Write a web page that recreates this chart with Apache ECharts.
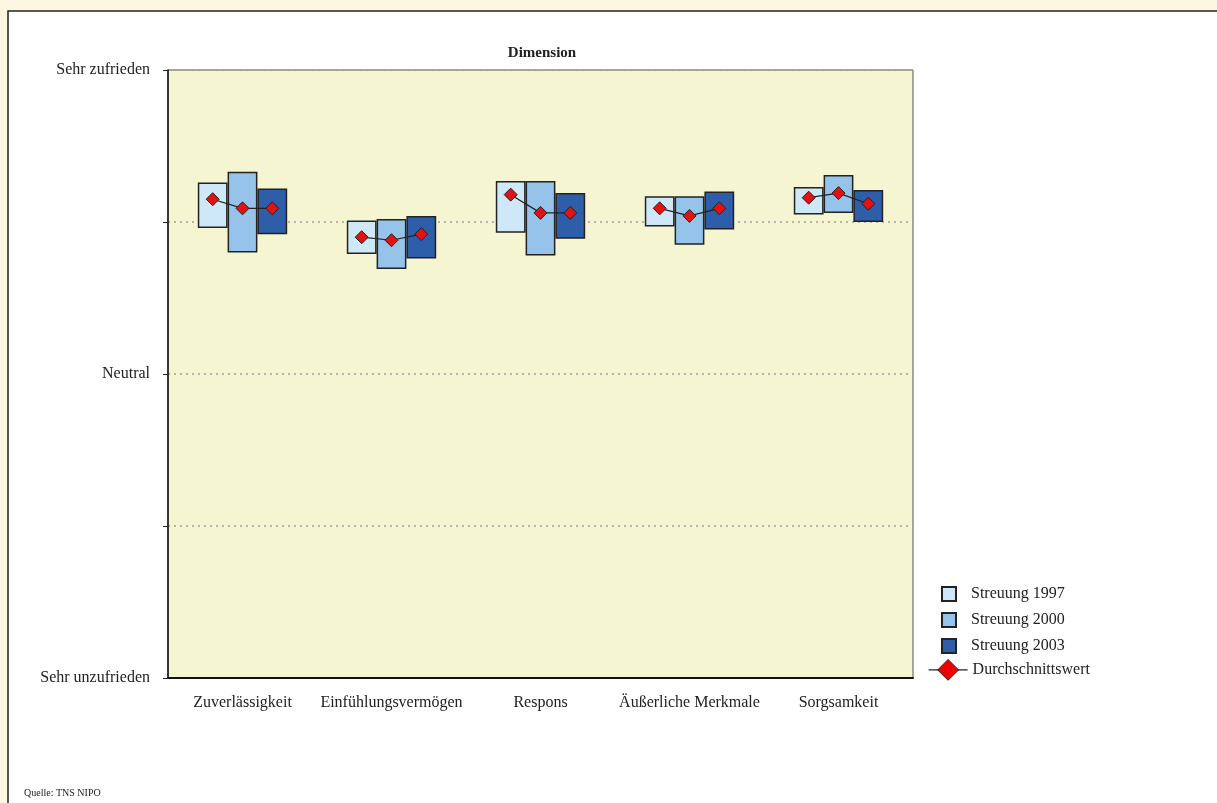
<!DOCTYPE html>
<html>
<head>
<meta charset="utf-8">
<script src="https://cdn.jsdelivr.net/npm/echarts@6/dist/echarts.min.js"></script>
<style>
html,body{margin:0;padding:0;background:#fdf6e1;}
#chart{width:1217px;height:803px;}
</style>
</head>
<body>
<div id="chart"></div>
<script>
const categories = ['Zuverlässigkeit', 'Einfühlungsvermögen', 'Respons', 'Äußerliche Merkmale', 'Sorgsamkeit'];
const yTickLabels = { 1: 'Sehr unzufrieden', 3: 'Neutral', 5: 'Sehr zufrieden' };
const years = ['1997', '2000', '2003'];

const low1997  = [3.96, 3.79, 3.93, 3.97, 4.05];
const high1997 = [4.26, 4.01, 4.27, 4.17, 4.23];
const mean1997 = [4.15, 3.90, 4.18, 4.09, 4.16];

const low2000  = [3.80, 3.69, 3.78, 3.85, 4.06];
const high2000 = [4.33, 4.02, 4.27, 4.17, 4.31];
const mean2000 = [4.09, 3.88, 4.06, 4.04, 4.19];

const low2003  = [3.92, 3.76, 3.89, 3.95, 4.00];
const high2003 = [4.22, 4.04, 4.19, 4.20, 4.21];
const mean2003 = [4.09, 3.92, 4.06, 4.09, 4.12];

const lows = [low1997, low2000, low2003];
const highs = [high1997, high2000, high2003];
const means = [mean1997, mean2000, mean2003];
const colors = ['#cfe8f7', '#96c3ea', '#2e5ea9'];
const FONT = '"Liberation Serif", "DejaVu Serif", serif';

const series = [];
years.forEach((y, k) => {
  series.push({
    name: 'base' + y, type: 'bar', stack: 's' + y, xAxisIndex: 0,
    barWidth: '20%', barGap: '0%',
    itemStyle: { color: 'transparent', borderWidth: 0 },
    emphasis: { disabled: true }, silent: true,
    data: lows[k]
  });
  series.push({
    name: 'Streuung ' + y, type: 'bar', stack: 's' + y, xAxisIndex: 0,
    barWidth: '20%', barGap: '0%',
    itemStyle: { color: colors[k], borderColor: '#222', borderWidth: 1.5 },
    emphasis: { disabled: true },
    data: highs[k].map((h, i) => +(h - lows[k][i]).toFixed(3))
  });
});
const OFFSET = 0.2;
categories.forEach((c, i) => {
  series.push({
    name: 'Durchschnittswert', type: 'line', xAxisIndex: 1, z: 10,
    symbol: 'diamond', symbolSize: 13,
    itemStyle: { color: '#e31212', borderColor: '#222', borderWidth: 1 },
    lineStyle: { color: '#222', width: 1.2 },
    emphasis: { disabled: true },
    data: years.map((y, k) => [i + 0.5 + (k - 1) * OFFSET, means[k][i]])
  });
});

const chart = echarts.init(document.getElementById('chart'), null, { renderer: 'canvas' });
chart.setOption({
  animation: false,
  backgroundColor: '#fdf6e1',
  graphic: [
    { type: 'rect', z: -10, shape: { x: 8, y: 11, width: 1300, height: 900 },
      style: { fill: '#ffffff', stroke: '#222', lineWidth: 1.5 } },
    { type: 'text', left: 24, top: 788,
      style: { text: 'Quelle: TNS NIPO', font: '10px ' + FONT, fill: '#222' } }
  ],
  title: {
    text: 'Dimension', left: 537, top: 41, textAlign: 'center',
    textStyle: { fontFamily: FONT, fontSize: 15, fontWeight: 'bold', color: '#222' }
  },
  grid: {
    left: 168, right: 304, top: 70, bottom: 125,
    show: true, backgroundColor: '#f6f5d1', borderColor: '#555', borderWidth: 1
  },
  legend: [
    {
      data: ['Streuung 1997', 'Streuung 2000', 'Streuung 2003'],
      orient: 'vertical', left: 936, top: 581, itemWidth: 14, itemHeight: 14, itemGap: 10,
      icon: 'rect', selectedMode: false,
      textStyle: { fontFamily: FONT, fontSize: 16, color: '#222', lineHeight: 14, padding: [0, 0, 0, 10] }
    },
    {
      data: ['Durchschnittswert'],
      orient: 'vertical', left: 923, top: 654, itemWidth: 39, itemHeight: 26, selectedMode: false,
      itemStyle: { color: '#f20000', borderColor: '#222', borderWidth: 1 },
      lineStyle: { color: '#222', width: 1.2 },
      textStyle: { fontFamily: FONT, fontSize: 16, color: '#222' }
    }
  ],
  xAxis: [
    {
      type: 'category', data: categories,
      axisLine: { lineStyle: { color: '#111', width: 2 } },
      axisTick: { show: false },
      axisLabel: { fontFamily: FONT, fontSize: 16, color: '#222', margin: 17, interval: 0 },
      splitLine: { show: false }
    },
    { type: 'value', min: 0, max: categories.length, show: false, splitLine: { show: false } }
  ],
  yAxis: {
    type: 'value', min: 1, max: 5, interval: 1,
    axisLine: { show: true, lineStyle: { color: '#111', width: 1.5 } },
    axisTick: { show: true, length: 5, lineStyle: { color: '#222' } },
    axisLabel: {
      fontFamily: FONT, fontSize: 16, color: '#222', margin: 18,
      formatter: v => yTickLabels[v] || ''
    },
    splitLine: { show: true, lineStyle: { color: '#a0a0a0', type: [2, 4], width: 1.5 } }
  },
  series: series
});
</script>
</body>
</html>
